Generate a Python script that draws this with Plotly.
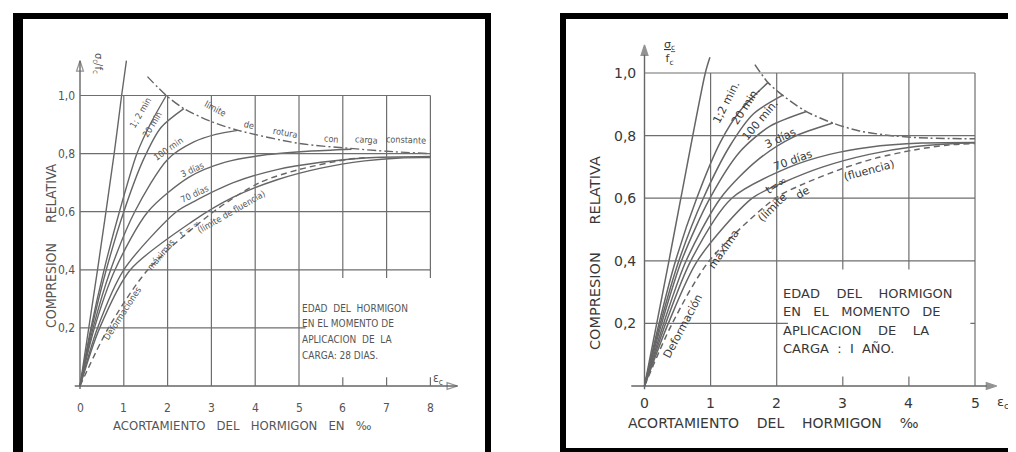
import plotly.graph_objects as go

W, H = 1016, 452

# ---------------- LEFT CHART: carga aplicada a los 28 días ----------------
L_x_ticks = [0, 1, 2, 3, 4, 5, 6, 7, 8]
L_y_ticks = [0.2, 0.4, 0.6, 0.8, 1.0]
L_y_labels = ["0,2", "0,4", "0,6", "0,8", "1,0"]

L_inst_x = [0, 0.4, 0.78, 0.95, 1.06]
L_inst_y = [0, 0.4, 0.8, 1.0, 1.12]
L_2min_x = [0, 0.25, 0.55, 0.9, 1.3, 1.6, 1.97]
L_2min_y = [0, 0.2, 0.4, 0.6, 0.8, 0.9, 1.0]
L_20min_x = [0, 0.27, 0.6, 1.0, 1.45, 1.85, 2.37]
L_20min_y = [0, 0.2, 0.4, 0.6, 0.78, 0.89, 0.955]
L_100min_x = [0, 0.3, 0.7, 1.25, 2.0, 2.6, 3.1, 3.6]
L_100min_y = [0, 0.2, 0.4, 0.6, 0.78, 0.84, 0.866, 0.88]
L_3d_x = [0, 0.33, 0.8, 1.55, 2.5, 3.3, 4.2, 5.2, 6.2]
L_3d_y = [0, 0.2, 0.4, 0.6, 0.72, 0.77, 0.795, 0.808, 0.815]
L_70d_x = [0, 0.4, 1.0, 2.2, 2.6, 3.5, 4.5, 5.5, 6.5, 8.0]
L_70d_y = [0, 0.2, 0.4, 0.6, 0.635, 0.7, 0.745, 0.77, 0.785, 0.79]
L_inf_x = [0, 0.45, 1.15, 2.55, 3.5, 4.5, 5.5, 6.5, 7.3, 8.0]
L_inf_y = [0, 0.2, 0.4, 0.565, 0.65, 0.71, 0.75, 0.775, 0.785, 0.786]
L_flu_x = [0, 0.65, 1.55, 3.05, 4.1, 5.0, 6.1, 6.6]
L_flu_y = [0, 0.2, 0.4, 0.6, 0.7, 0.745, 0.78, 0.787]
L_rot_x = [1.54, 1.97, 2.37, 3.0, 3.61, 5.0, 6.16, 7.0, 8.0]
L_rot_y = [1.065, 1.0, 0.955, 0.91, 0.88, 0.835, 0.818, 0.808, 0.80]

L_labels = [  # text, x, y, angle
    ("1; 2 min", 1.38, 0.94, -60), ("20 min", 1.64, 0.90, -58),
    ("100 min", 2.02, 0.815, -35), ("3 días", 2.55, 0.745, -25),
    ("70 días", 2.62, 0.66, -25), ("t = ∞", 2.5, 0.54, -35),
    ("Deformaciones", 0.98, 0.25, -57), ("máximas", 1.85, 0.45, -50),
    ("(límite de fluencia)", 3.45, 0.6, -30),
    ("límite", 3.1, 0.955, 28), ("de", 3.85, 0.9, 15), ("rotura", 4.7, 0.872, 10),
    ("con", 5.75, 0.85, 6), ("carga", 6.55, 0.848, 4), ("constante", 7.45, 0.846, 2),
]
L_box = ["EDAD  DEL  HORMIGON", "EN EL MOMENTO DE", "APLICACION  DE  LA", "CARGA: 28 DIAS."]

# ---------------- RIGHT CHART: carga aplicada a 1 año ----------------
R_x_ticks = [0, 1, 2, 3, 4, 5]
R_y_ticks = [0.2, 0.4, 0.6, 0.8, 1.0]
R_y_labels = ["0,2", "0,4", "0,6", "0,8", "1,0"]

R_inst_x = [0, 0.37, 0.55, 0.92, 0.99]
R_inst_y = [0, 0.4, 0.6, 1.0, 1.05]
R_2min_x = [0, 0.22, 0.47, 0.79, 1.15, 1.45, 1.87]
R_2min_y = [0, 0.2, 0.4, 0.6, 0.78, 0.88, 0.97]
R_20min_x = [0, 0.24, 0.52, 0.89, 1.3, 1.65, 2.1]
R_20min_y = [0, 0.2, 0.4, 0.6, 0.77, 0.87, 0.93]
R_100min_x = [0, 0.26, 0.56, 0.99, 1.45, 1.9, 2.45]
R_100min_y = [0, 0.2, 0.4, 0.6, 0.75, 0.83, 0.877]
R_3d_x = [0, 0.29, 0.63, 1.15, 1.7, 2.25, 2.85]
R_3d_y = [0, 0.2, 0.4, 0.6, 0.72, 0.795, 0.84]
R_70d_x = [0, 0.32, 0.7, 1.32, 2.2, 2.8, 3.4, 4.2, 5.0]
R_70d_y = [0, 0.2, 0.4, 0.6, 0.70, 0.74, 0.763, 0.776, 0.778]
R_inf_x = [0, 0.36, 0.8, 1.63, 2.1, 2.7, 3.4, 4.1, 4.7, 5.0]
R_inf_y = [0, 0.2, 0.4, 0.6, 0.65, 0.70, 0.74, 0.765, 0.775, 0.777]
R_flu_x = [0, 0.42, 0.98, 1.98, 2.4, 3.0, 3.5, 4.1, 4.6, 5.0]
R_flu_y = [0, 0.2, 0.4, 0.6, 0.645, 0.695, 0.728, 0.755, 0.77, 0.775]
R_rot_x = [1.67, 1.85, 2.01, 2.43, 2.85, 3.25, 3.77, 4.3, 5.0]
R_rot_y = [1.027, 0.974, 0.942, 0.879, 0.84, 0.815, 0.799, 0.792, 0.79]

R_labels = [
    ("1;2 min.", 1.24, 0.905, -63), ("20 min.", 1.54, 0.895, -57),
    ("100 min.", 1.76, 0.85, -50), ("3 días", 2.05, 0.79, -25),
    ("70 días", 2.24, 0.72, -20), ("t=∞", 1.99, 0.64, -32),
    ("Deformación", 0.58, 0.19, -62), ("máxima", 1.2, 0.435, -55),
    ("(límite", 1.94, 0.57, -45), ("de", 2.4, 0.617, -30),
    ("(fluencia)", 3.4, 0.69, -15),
]
R_box = ["EDAD    DEL    HORMIGON", "EN   EL   MOMENTO   DE", "APLICACION    DE    LA", "CARGA  :  I  AÑO."]

# ---------------- geometry helpers (pixel <-> paper) ----------------
def dom_x(p0, unit, r):
    return [(p0 + r[0] * unit) / W, (p0 + r[1] * unit) / W]

def dom_y(p0, unit, r):
    return [1 - (p0 - r[0] * unit) / H, 1 - (p0 - r[1] * unit) / H]

def P(px, py):
    return px / W, 1 - py / H

LXR, LYR = [-0.7, 9.2], [-0.15, 1.25]
RXR, RYR = [-0.9, 5.6], [-0.15, 1.15]

LINE = "#666666"
GRID = "#6e6e6e"
LFONT = "DejaVu Sans Condensed, Liberation Sans Narrow, sans-serif"
RFONT = "DejaVu Sans, Verdana, sans-serif"

fig = go.Figure()

def curve(xs, ys, xa, ya, dash="solid", width=1.4):
    fig.add_trace(go.Scatter(x=xs, y=ys, xaxis=xa, yaxis=ya, mode="lines",
                             line=dict(color=LINE, width=width, dash=dash, shape="spline", smoothing=0.8),
                             hoverinfo="skip", showlegend=False, cliponaxis=False))

for xs, ys in [(L_inst_x, L_inst_y), (L_2min_x, L_2min_y), (L_20min_x, L_20min_y),
               (L_100min_x, L_100min_y), (L_3d_x, L_3d_y), (L_70d_x, L_70d_y), (L_inf_x, L_inf_y)]:
    curve(xs, ys, "x", "y")
curve(L_flu_x, L_flu_y, "x", "y", dash="6px,4px")
curve(L_rot_x, L_rot_y, "x", "y", dash="9px,3px,2px,3px")

for xs, ys in [(R_inst_x, R_inst_y), (R_2min_x, R_2min_y), (R_20min_x, R_20min_y),
               (R_100min_x, R_100min_y), (R_3d_x, R_3d_y), (R_70d_x, R_70d_y), (R_inf_x, R_inf_y)]:
    curve(xs, ys, "x2", "y2", width=1.5)
curve(R_flu_x, R_flu_y, "x2", "y2", dash="6px,4px", width=1.5)
curve(R_rot_x, R_rot_y, "x2", "y2", dash="9px,3px,2px,3px", width=1.5)

# axes drawn as lines ending in an arrow marker
def axis_arrow(xs, ys, xa, ya, sym):
    fig.add_trace(go.Scatter(x=xs, y=ys, xaxis=xa, yaxis=ya, mode="lines+markers",
                             line=dict(color=LINE, width=1.4),
                             marker=dict(symbol=sym, size=[0, 11], angleref="previous", color=LINE,
                                         line=dict(color=LINE, width=1.3)),
                             hoverinfo="skip", showlegend=False, cliponaxis=False))

axis_arrow([0, 0], [-0.01, 1.12], "x", "y", "arrow-open")
axis_arrow([-0.12, 8.62], [0, 0], "x", "y", "arrow-open")
axis_arrow([0, 0], [-0.01, 1.09], "x2", "y2", "arrow")
axis_arrow([-0.2, 5.33], [0, 0], "x2", "y2", "arrow")

shapes = []
ann = []

def grid(xt, yt, xr, yr, box):
    xmax, ymax = xt[-1], yt[-1]
    for v in xt[1:]:
        shapes.append(dict(type="line", xref=xr, yref=yr, x0=v, x1=v, y0=0, y1=ymax,
                           line=dict(color=GRID, width=1.2)))
    for v in yt:
        shapes.append(dict(type="line", xref=xr, yref=yr, x0=0, x1=xmax, y0=v, y1=v,
                           line=dict(color=GRID, width=1.2)))
    shapes.append(dict(type="rect", xref=xr, yref=yr, x0=box[0], x1=box[1], y0=box[2], y1=box[3],
                       fillcolor="white", line=dict(width=0)))

grid(L_x_ticks, L_y_ticks, "x", "y", (5.15, 8.06, 0.03, 0.372))
grid(R_x_ticks, R_y_ticks, "x2", "y2", (2.17, 4.93, 0.03, 0.372))

# frames (thick black borders of each scanned figure)
for (a, b, c, d) in [(5, 5, 15, 452), (5, 5, 483, 11), (477, 5, 483, 452), (5, 445, 483, 452),
                     (552, 5, 558, 446), (552, 5, 1016, 11), (1010, 5, 1016, 446), (552, 440, 1016, 446)]:
    x0, y0 = P(a, b)
    x1, y1 = P(c, d)
    shapes.append(dict(type="rect", xref="paper", yref="paper", x0=x0, x1=x1, y0=y1, y1=y0,
                       fillcolor="black", line=dict(width=0)))

def text(xr, yr, x, y, t, size, font, color, angle=0, xanchor="center", yanchor="middle", xs=0, ys=0):
    ann.append(dict(xref=xr, yref=yr, x=x, y=y, text=t, showarrow=False, textangle=angle,
                    xanchor=xanchor, yanchor=yanchor, xshift=xs, yshift=ys,
                    font=dict(size=size, family=font, color=color)))

LC, RC = "#555555", "#383838"
for v in L_x_ticks:
    text("x", "y", v, 0, str(v), 12, LFONT, LC, ys=-22)
for v, s in zip(L_y_ticks, L_y_labels):
    text("x", "y", 0, v, s, 12, LFONT, LC, xanchor="right", xs=-3)
for v in R_x_ticks:
    text("x2", "y2", v, 0, str(v), 14, RFONT, RC, ys=-17)
for v, s in zip(R_y_ticks, R_y_labels):
    text("x2", "y2", 0, v, s, 14, RFONT, RC, xanchor="right", xs=-7)

for t, x, y, a in L_labels:
    text("x", "y", x, y, t, 9, LFONT, LC, angle=a)
for t, x, y, a in R_labels:
    text("x2", "y2", x, y, t, 11, RFONT, RC, angle=a)

for i, s in enumerate(L_box):
    px, py = P(292, 300 + i * 15.7)
    text("paper", "paper", px, py, s, 10, LFONT, LC, xanchor="left")
for i, s in enumerate(R_box):
    px, py = P(773, 285 + i * 18.5)
    text("paper", "paper", px, py, s, 13, RFONT, RC, xanchor="left")

px, py = P(234, 417)
text("paper", "paper", px, py, "ACORTAMIENTO   DEL   HORMIGON   EN   ‰", 13, LFONT, LC)
px, py = P(43, 238)
text("paper", "paper", px, py, "COMPRESION     RELATIVA", 14, LFONT, LC, angle=-90)
px, py = P(765, 415)
text("paper", "paper", px, py, "ACORTAMIENTO    DEL    HORMIGON    ‰", 14, RFONT, RC)
px, py = P(587, 245)
text("paper", "paper", px, py, "COMPRESION      RELATIVA", 14.5, RFONT, RC, angle=-90)

px, py = P(90, 55)
text("paper", "paper", px, py, "σ<sub>c</sub>/f<sub>c</sub>", 11, LFONT, LC, angle=90)
px, py = P(661, 45)
text("paper", "paper", px, py, "<u>σ<sub>c</sub></u><br>f<sub>c</sub>", 11, RFONT, RC)
px, py = P(430, 371)
text("paper", "paper", px, py, "ε<sub>c</sub>", 12, LFONT, LC)
px, py = P(995, 394)
text("paper", "paper", px, py, "ε<sub>c</sub>", 13, RFONT, RC)

fig.update_layout(
    width=W, height=H, margin=dict(l=0, r=0, t=0, b=0),
    paper_bgcolor="white", plot_bgcolor="rgba(0,0,0,0)",
    shapes=shapes, annotations=ann, showlegend=False,
    xaxis=dict(domain=dom_x(72, 43.8, LXR), range=LXR, visible=False, fixedrange=True),
    yaxis=dict(domain=dom_y(378, 290.5, LYR), range=LYR, visible=False, fixedrange=True),
    xaxis2=dict(domain=dom_x(636.5, 66.1, RXR), range=RXR, visible=False, fixedrange=True, anchor="y2"),
    yaxis2=dict(domain=dom_y(378, 313, RYR), range=RYR, visible=False, fixedrange=True, anchor="x2"),
)

fig.write_html("out.html")
